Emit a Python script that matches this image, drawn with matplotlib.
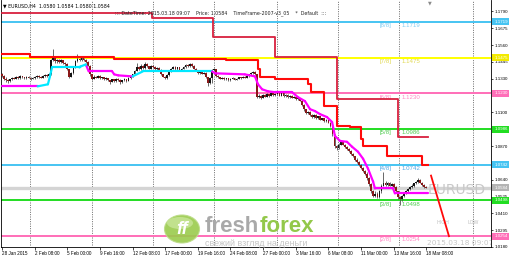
import matplotlib
matplotlib.use('Agg')
import matplotlib.pyplot as plt
import matplotlib.transforms as mtransforms
from matplotlib.patches import Ellipse, Rectangle
from matplotlib.collections import LineCollection

# ---------------- data (prices in pips, i.e. price * 10000) ----------------
opens = [11360, 11350, 11330, 11318, 11312, 11325, 11338, 11330, 11342, 11335, 11348, 11340, 11333, 11345, 11338, 11330, 11336, 11342, 11350, 11344, 11338, 11348, 11355, 11350,
         11362, 11455, 11470, 11448, 11460, 11442, 11455, 11438,
         11430, 11395, 11345, 11370,
         11410, 11450, 11465, 11455, 11470, 11458, 11445,
         11420, 11360,
         11330, 11345, 11338, 11350, 11332, 11340, 11325, 11335, 11318, 11310, 11325, 11315, 11330, 11322, 11305, 11318, 11328, 11315, 11335, 11345, 11360, 11385, 11410,
         11398, 11420, 11405, 11430, 11415, 11400, 11418, 11410, 11395, 11405,
         11390, 11360, 11345, 11335, 11358,
         11380, 11400, 11412, 11395, 11408, 11385, 11398, 11410, 11425, 11415, 11430, 11418,
         11400, 11385, 11370, 11378, 11365, 11372, 11340, 11300, 11335, 11390,
         11395, 11350, 11340, 11330, 11338, 11325, 11332, 11318, 11328, 11335, 11322, 11330, 11340, 11335, 11345, 11338, 11350, 11360,
         11368, 11375, 11360,
         11205, 11215, 11200, 11220, 11208, 11225, 11212, 11230, 11218,
         11225, 11230, 11215, 11235, 11210, 11222, 11205, 11215, 11200, 11208, 11190, 11195,
         11180, 11150, 11120, 11095, 11105,
         11080, 11070, 11085, 11060, 11072, 11050, 11060, 11040, 11048, 11030,
         11010, 10950,
         10870, 10855, 10880, 10895, 10880,
         10865, 10850, 10835, 10815, 10800, 10775, 10760, 10740, 10720, 10700,
         10680, 10650, 10610, 10560, 10530, 10545,
         10525, 10560, 10600, 10620, 10605, 10615, 10600, 10610,
         10590, 10560, 10520, 10505, 10530,
         10545, 10560, 10575, 10590, 10600,
         10615, 10625, 10640, 10620, 10605, 10592]
closes = [11350, 11330, 11318, 11312, 11325, 11338, 11330, 11342, 11335, 11348, 11340, 11333, 11345, 11338, 11330, 11336, 11342, 11350, 11344, 11338, 11348, 11355, 11350, 11362,
          11455, 11470, 11448, 11460, 11442, 11455, 11438, 11430,
          11395, 11345, 11370, 11410,
          11450, 11465, 11455, 11470, 11458, 11445, 11420,
          11360, 11330,
          11345, 11338, 11350, 11332, 11340, 11325, 11335, 11318, 11310, 11325, 11315, 11330, 11322, 11305, 11318, 11328, 11315, 11335, 11345, 11360, 11385, 11410, 11398,
          11420, 11405, 11430, 11415, 11400, 11418, 11410, 11395, 11405, 11390,
          11360, 11345, 11335, 11358, 11380,
          11400, 11412, 11395, 11408, 11385, 11398, 11410, 11425, 11415, 11430, 11418, 11400,
          11385, 11370, 11378, 11365, 11372, 11340, 11300, 11335, 11390, 11395,
          11350, 11340, 11330, 11338, 11325, 11332, 11318, 11328, 11335, 11322, 11330, 11340, 11335, 11345, 11338, 11350, 11360, 11368,
          11375, 11360, 11205,
          11215, 11200, 11220, 11208, 11225, 11212, 11230, 11218, 11225,
          11230, 11215, 11235, 11210, 11222, 11205, 11215, 11200, 11208, 11190, 11195, 11180,
          11150, 11120, 11095, 11105, 11080,
          11070, 11085, 11060, 11072, 11050, 11060, 11040, 11048, 11030, 11010,
          10950, 10870,
          10855, 10880, 10895, 10880, 10865,
          10850, 10835, 10815, 10800, 10775, 10760, 10740, 10720, 10700, 10680,
          10650, 10610, 10560, 10530, 10545, 10525,
          10560, 10600, 10620, 10605, 10615, 10600, 10610, 10590,
          10560, 10520, 10505, 10530, 10545,
          10560, 10575, 10590, 10600, 10615,
          10625, 10640, 10620, 10605, 10592, 10584]
highs = [11372, 11358, 11340, 11325, 11330, 11345, 11342, 11350, 11348, 11355, 11352, 11345, 11352, 11350, 11342, 11342, 11350, 11358, 11355, 11348, 11355, 11362, 11360, 11368,
         11465, 11530, 11478, 11468, 11465, 11462, 11460, 11445,
         11435, 11400, 11378, 11415,
         11458, 11498, 11470, 11478, 11475, 11462, 11450,
         11425, 11365,
         11355, 11350, 11358, 11355, 11345, 11342, 11340, 11338, 11322, 11330, 11328, 11335, 11332, 11325, 11322, 11332, 11330, 11340, 11350, 11365, 11392, 11440, 11418,
         11428, 11425, 11445, 11435, 11420, 11425, 11422, 11415, 11412, 11410,
         11395, 11365, 11350, 11362, 11385,
         11405, 11420, 11418, 11412, 11412, 11402, 11415, 11430, 11430, 11440, 11435, 11422,
         11405, 11390, 11385, 11382, 11378, 11375, 11345, 11340, 11395, 11402,
         11398, 11355, 11345, 11342, 11340, 11338, 11335, 11332, 11340, 11338, 11335, 11345, 11345, 11350, 11350, 11355, 11365, 11375,
         11385, 11382, 11365,
         11225, 11220, 11228, 11225, 11232, 11228, 11238, 11235, 11232,
         11238, 11235, 11245, 11240, 11228, 11225, 11220, 11218, 11212, 11210, 11200, 11198,
         11185, 11155, 11125, 11110, 11110,
         11088, 11090, 11090, 11078, 11075, 11065, 11065, 11052, 11050, 11035,
         11015, 10955,
         10880, 10890, 10905, 10900, 10885,
         10870, 10858, 10842, 10822, 10805, 10785, 10768, 10748, 10728, 10708,
         10690, 10660, 10620, 10570, 10560, 10555,
         10570, 10610, 10690, 10630, 10625, 10622, 10620, 10615,
         10595, 10565, 10528, 10535, 10552,
         10568, 10582, 10598, 10608, 10620,
         10632, 10650, 10645, 10625, 10612, 10600]
lows = [11345, 11322, 11305, 11298, 11305, 11320, 11325, 11325, 11330, 11330, 11335, 11325, 11328, 11332, 11322, 11325, 11330, 11338, 11338, 11332, 11335, 11342, 11345, 11345,
        11358, 11448, 11440, 11440, 11435, 11438, 11430, 11420,
        11388, 11335, 11340, 11365,
        11405, 11445, 11448, 11450, 11452, 11440, 11415,
        11352, 11318,
        11325, 11332, 11332, 11328, 11328, 11318, 11320, 11312, 11295, 11305, 11308, 11310, 11315, 11292, 11300, 11312, 11310, 11312, 11330, 11340, 11355, 11380, 11392,
        11392, 11398, 11400, 11410, 11395, 11395, 11405, 11390, 11390, 11385,
        11355, 11340, 11325, 11330, 11352,
        11375, 11395, 11390, 11390, 11380, 11382, 11395, 11405, 11410, 11410, 11412, 11395,
        11380, 11365, 11365, 11360, 11360, 11335, 11280, 11295, 11300, 11385,
        11345, 11335, 11325, 11325, 11320, 11320, 11312, 11315, 11325, 11318, 11318, 11328, 11330, 11332, 11332, 11335, 11345, 11355,
        11362, 11355, 11195,
        11198, 11192, 11195, 11202, 11205, 11208, 11210, 11212, 11212,
        11220, 11210, 11212, 11205, 11205, 11200, 11200, 11195, 11195, 11185, 11185, 11175,
        11145, 11110, 11088, 11090, 11072,
        11062, 11065, 11055, 11055, 11045, 11045, 11035, 11035, 11025, 11000,
        10940, 10855,
        10845, 10850, 10875, 10875, 10858,
        10842, 10828, 10810, 10792, 10770, 10752, 10735, 10712, 10695, 10672,
        10640, 10600, 10550, 10520, 10525, 10515,
        10518, 10552, 10595, 10598, 10600, 10595, 10595, 10585,
        10552, 10505, 10470, 10495, 10525,
        10540, 10552, 10568, 10585, 10592,
        10608, 10618, 10615, 10598, 10585, 10580]

tick_bars = [0, 16, 32, 48, 64, 80, 96, 112, 128, 144, 160, 176, 192, 208]
tick_labels = ['28 Jan 2015', '2 Feb 08:00', '5 Feb 00:00', '9 Feb 16:00', '12 Feb 08:00',
               '17 Feb 00:00', '19 Feb 16:00', '24 Feb 08:00', '27 Feb 00:00', '3 Mar 16:00',
               '6 Mar 08:00', '11 Mar 00:00', '13 Mar 16:00', '18 Mar 08:00']
grid_bars = [13.7, 44.1, 74.0, 103.9, 134.8, 164.7, 194.6, 230.9]
# visible price-scale ticks (1.1215, 1.0985, 1.0755 sit under the coloured level boxes)
price_ticks = [1.1790, 1.1675, 1.1560, 1.1445, 1.1330, 1.1100,
               1.0870, 1.0640, 1.0525, 1.0410, 1.0295, 1.0180]

level_names = ['[8/8]', '[7/8]', '[6/8]', '[5/8]', '[4/8]', '[3/8]', '[2/8]']
level_values = [1.1719, 1.1475, 1.1230, 1.0986, 1.0742, 1.0498, 1.0254]
current_price = 1.0584

# trailing line (cyan above / magenta below)
trail_x = [0, 17.5, 22.5, 23.5, 24.5, 38, 38.5, 41, 41.5, 42.5, 54, 55, 57, 64, 69, 103, 104.5,
           119, 124, 125.5, 127.5, 130.4, 133.8, 142.2, 145.1, 148.5, 151, 153.4, 155.9, 159.3,
           161.8, 163.2, 165.7, 169.1, 171.6, 174.5, 177, 179.4, 181.9, 182.8, 191.7, 192.6, 208.8]
trail_y = [1.1278, 1.1278, 1.1292, 1.1346, 1.1407, 1.1407, 1.1414, 1.1427, 1.1414, 1.1380, 1.1380,
           1.1360, 1.1353, 1.1346, 1.1380, 1.1380, 1.1367, 1.1360, 1.1346, 1.1292, 1.1258, 1.1244,
           1.1238, 1.1238, 1.1204, 1.1177, 1.1122, 1.1109, 1.1088, 1.1068, 1.1034, 1.0939, 1.0905,
           1.0899, 1.0865, 1.0831, 1.0783, 1.0716, 1.0627, 1.0580, 1.0580, 1.0546, 1.0546]
trail_side = ['m', 'c', 'c', 'c', 'c', 'c', 'c', 'c', 'm', 'm', 'm', 'm', 'm', 'c', 'c', 'm', 'm',
              'm', 'm', 'm', 'm', 'm', 'm', 'm', 'm', 'm', 'm', 'm', 'm', 'm', 'm', 'm', 'm', 'm',
              'm', 'm', 'm', 'm', 'm', 'm', 'm', 'm']

# step lines
redA_x = [0, 73.5, 103.5, 134, 164, 194, 208.8]
redA_y = [1.1780, 1.1746, 1.1617, 1.1482, 1.1190, 1.0933, 1.0933]
redB_x = [0, 13.5, 55, 110, 125.5, 126.5, 134, 150, 151.5, 158, 164, 170.5, 176, 177, 188.5, 206, 208.8]
redB_y = [1.1502, 1.1482, 1.1468, 1.1455, 1.1400, 1.1339, 1.1326, 1.1292, 1.1238, 1.1143,
          1.1007, 1.1000, 1.0919, 1.0871, 1.0804, 1.0743, 1.0743]
proj_x = [210.3, 219.1]
proj_y = [1.0668, 1.0254]

# ---------------- figure ----------------
W, H = 510, 258
AXFONT = 'Liberation Sans'
fig = plt.figure(figsize=(W / 100, H / 100), dpi=100)
fig.patch.set_facecolor('white')
ax = fig.add_axes([1 / W, 11 / H, 490 / W, 247 / H])
ax.set_facecolor('white')
YMIN, YMAX = 1.01935, 1.18682
ax.set_xlim(-0.49, 239.7)
ax.set_ylim(YMIN, YMAX)


def fx(x):
    return x / W


def fy(y):
    return 1 - y / H


# watermark logo
fig.patches.append(Ellipse((fx(182), fy(229)), 35 / W, 28 / H, transform=fig.transFigure,
                           facecolor='#9acb4c', edgecolor='#bcdc88', lw=0.8, zorder=0.5, alpha=0.9))
fig.patches.append(Ellipse((fx(180), fy(223)), 26 / W, 12 / H, transform=fig.transFigure,
                           facecolor='#c9e69a', edgecolor='none', zorder=0.6, alpha=0.8))
fig.text(fx(182), fy(230), 'ff', fontsize=13, fontweight='bold', fontstyle='italic', color='white',
         ha='center', va='center', family=AXFONT, zorder=0.7)
fig.text(fx(205), fy(226), 'fresh', fontsize=16, fontweight='bold', color='#a9a9a9',
         ha='left', va='center', family=AXFONT, zorder=0.7)
fig.text(fx(260), fy(226), 'forex', fontsize=16, fontweight='bold', color='#93c84a',
         ha='left', va='center', family=AXFONT, zorder=0.7)
fig.text(fx(205), fy(243), 'свежий взгляд на деньги', fontsize=6.4, color='#c4c4c4',
         ha='left', va='center', family=AXFONT, zorder=0.7)

# grid
ax.vlines(grid_bars, YMIN, YMAX, colors='#555555', linestyles=(0, (1.2, 1.6)), lw=0.6, zorder=1)

# current price band
ax.axhline(current_price, color='#d4d4d4', lw=2.4, zorder=1.5)

# murrey levels
level_colors = ['#46c4f2', '#ffff00', '#ff6eb8', '#22dd22', '#46c4f2', '#22dd22', '#ff6eb8']
label_colors = ['#80ccf2', '#e0d850', '#ff88c4', '#50cc50', '#50a8e6', '#50cc50', '#ff88c4']
px_per = (YMAX - YMIN) / 247.0
for name, val, lc, tc in zip(level_names, level_values, level_colors, label_colors):
    ax.axhline(val, color=lc, lw=1.4, zorder=2)
    ax.text(185.3, val - 1.2 * px_per, name, fontsize=4.4, color=tc, ha='left', va='top',
            family=AXFONT, zorder=2)
    ax.text(196.1, val - 1.2 * px_per, '%.4f' % val, fontsize=4.4, color=tc, ha='left', va='top',
            family=AXFONT, zorder=2)

# candles
n = len(closes)
xs = list(range(n))
o = [v / 10000 for v in opens]
c = [v / 10000 for v in closes]
h = [v / 10000 for v in highs]
l = [v / 10000 for v in lows]
ax.vlines(xs, l, h, colors='#505050', lw=0.6, zorder=3)
body_b = [min(a, b) for a, b in zip(o, c)]
body_h = [max(abs(a - b), 0.00008) for a, b in zip(o, c)]
body_c = ['#141414' if cc >= oo else '#8a1818' for oo, cc in zip(o, c)]
ax.bar(xs, body_h, bottom=body_b, width=0.85, color=body_c, linewidth=0, zorder=3.1)

# red step lines
ax.plot(redA_x, redA_y, drawstyle='steps-post', color='#d8203e', lw=1.3, zorder=4)
ax.plot(redB_x, redB_y, drawstyle='steps-post', color='#ff0a0a', lw=1.5, zorder=4.1)
ax.plot(proj_x, proj_y, color='#ff0a0a', lw=1.3, zorder=4.1)

# trailing line
segs = [[(trail_x[i], trail_y[i]), (trail_x[i + 1], trail_y[i + 1])] for i in range(len(trail_x) - 1)]
cols = ['#ff00ff' if s == 'm' else '#00e8ff' for s in trail_side]
ax.add_collection(LineCollection(segs, colors=cols, linewidths=1.6, zorder=4.2, capstyle='round'))

# axes styling
ax.spines['top'].set_visible(False)
for side in ['left', 'right', 'bottom']:
    ax.spines[side].set_color('#000000')
    ax.spines[side].set_linewidth(0.6)
ax.yaxis.tick_right()
ax.set_yticks(price_ticks)
ax.set_yticklabels(['%.4f' % v for v in price_ticks], family=AXFONT)
ax.set_xticks(tick_bars)
ax.set_xticklabels(tick_labels, family=AXFONT)
ax.tick_params(axis='y', labelsize=3.2, length=1.5, width=0.5, pad=1.0, colors='#000000')
ax.tick_params(axis='x', labelsize=3.3, length=2, width=0.5, pad=1.2, colors='#000000')
for lbl in ax.get_xticklabels():
    lbl.set_ha('left')

# right-axis coloured value boxes
trans = mtransforms.blended_transform_factory(fig.transFigure, ax.transData)
box_h = 7 * px_per
box_colors = ['#46c4f2', '#f2ea00', '#ff6eb8', '#22dd22', '#46c4f2', '#22dd22', '#ff6eb8']
for val, bc in zip(level_values + [current_price], box_colors + ['#b4b4b4']):
    r = Rectangle((492 / W, val - box_h / 2), 18 / W, box_h, transform=trans,
                  facecolor=bc, edgecolor='none', clip_on=False, zorder=10)
    fig.patches.append(r)
    fig.text(501 / W, val, '%.4f' % val, transform=trans, fontsize=3.2, color='white',
             ha='center', va='center', family=AXFONT, zorder=11)

# texts
fig.text(fx(3), fy(6), '\u25bc EURUSD,H4  1.0580 1.0584 1.0580 1.0584', fontsize=3.4,
         color='#000000', ha='left', va='center')
fig.text(fx(115), fy(13), '::: DateTime: 2015.03.18 09:07    Price: 1.0584    TimeFrame-2007-v3_05    *  Default  :::',
         fontsize=3.4, color='#222222', ha='left', va='center')
fig.text(fx(430), fy(3), '\u25bc', fontsize=3.5, color='#8a8a8a', ha='center', va='center')
ax.text(fx(428), fy(190), 'EURUSD', transform=fig.transFigure, fontsize=10, color='#c8c8c8',
        ha='left', va='center', clip_on=True, zorder=2.5)
ax.text(fx(437), fy(223), 'HIGH', transform=fig.transFigure, fontsize=3.6, color='#c0c0c0',
        ha='left', va='center', zorder=2.5)
ax.text(fx(468), fy(223), 'LOW', transform=fig.transFigure, fontsize=3.6, color='#c0c0c0',
        ha='left', va='center', zorder=2.5)
ax.text(fx(427), fy(243), '2015.03.18 09:07', transform=fig.transFigure, fontsize=5.3,
        color='#c8c8c8', ha='left', va='center', clip_on=True, zorder=2.5)

fig.savefig('out.png', dpi=100, facecolor='white')
